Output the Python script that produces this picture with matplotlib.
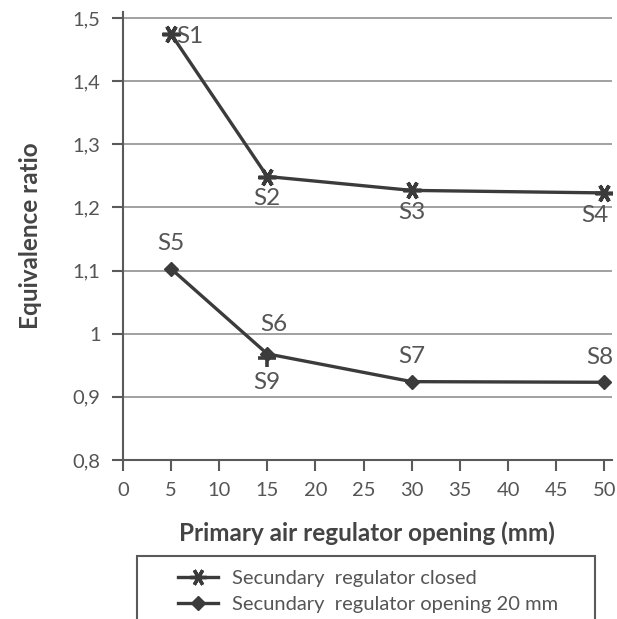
"""Equivalence ratio vs primary air regulator opening."""

import matplotlib.pyplot as plt
from matplotlib.lines import Line2D
from matplotlib.patches import Rectangle

plt.rcParams["font.family"] = ["Lato", "DejaVu Sans"]

# data
opening_mm = [5, 15, 30, 50]
closed_phi = [1.475, 1.249, 1.227, 1.223]
closed_tags = ["S1", "S2", "S3", "S4"]
open20_phi = [1.103, 0.968, 0.924, 0.923]
open20_tags = ["S5", "S6", "S7", "S8"]
s9_opening = [15]
s9_phi = [0.962]

x_ticks = list(range(0, 55, 5))
y_ticks = [0.8, 0.9, 1.0, 1.1, 1.2, 1.3, 1.4, 1.5]
y_tick_labels = ["0,8", "0,9", "1", "1,1", "1,2", "1,3", "1,4", "1,5"]

LINE = "#3b3b3b"
GRID = "#9a9a9a"
TEXT = "#555555"
STAR = (6, 2, 90)

fig = plt.figure(figsize=(6.17, 6.19), dpi=100)
ax = fig.add_axes([0.199, 0.257, 0.793, 0.724])

ax.plot(opening_mm, closed_phi, color=LINE, lw=2.4, marker=STAR, ms=13, mew=2.6)
ax.plot(opening_mm, open20_phi, color=LINE, lw=2.4, marker="D", ms=7.5)
ax.plot(s9_opening, s9_phi, color=LINE, ls="none", marker="+", ms=13, mew=2.6)

ax.set_xlim(0, 50.8)
ax.set_ylim(0.8, 1.51)
ax.set_xticks(x_ticks)
ax.set_yticks(y_ticks)
ax.set_yticklabels(y_tick_labels)
ax.grid(True, axis="y", color=GRID, lw=1.3)
ax.set_axisbelow(True)
for side in ["top", "right"]:
    ax.spines[side].set_visible(False)
for side in ["left", "bottom"]:
    ax.spines[side].set_color("#5a5a5a")
    ax.spines[side].set_linewidth(1.5)
ax.tick_params(colors="#5a5a5a", width=1.5, length=8, labelsize=14.5,
               labelcolor=TEXT, pad=8)

ax.set_xlabel("Primary air regulator opening (mm)", fontsize=17.5,
              color="#444444", fontweight="bold", labelpad=16)
ax.set_ylabel("Equivalence ratio", fontsize=17.5, color="#444444",
              fontweight="bold", labelpad=22)

# point tags
tag_kw = dict(textcoords="offset points", fontsize=17.5, color=TEXT)
closed_offsets = [(4, -2), (0, -16), (0, -16), (-7, -16)]
closed_align = [("left", "center"), ("center", "center"),
                ("center", "center"), ("center", "center")]
for x, y, tag, off, (ha, va) in zip(opening_mm, closed_phi, closed_tags,
                                    closed_offsets, closed_align):
    ax.annotate(tag, (x, y), xytext=off, ha=ha, va=va, **tag_kw)
open_offsets = [(0, 18), (5, 21), (0, 18), (-3, 18)]
for x, y, tag, off in zip(opening_mm, open20_phi, open20_tags, open_offsets):
    ax.annotate(tag, (x, y), xytext=off, ha="center", va="center", **tag_kw)
ax.annotate("S9", (s9_opening[0], s9_phi[0]), xytext=(0, -18),
            ha="center", va="center", **tag_kw)

# legend box, cut off by the bottom edge as in the source
fig.patches.append(Rectangle((137 / 617, -0.05), 458 / 617, 0.05 + 1 - 556 / 619,
                             transform=fig.transFigure, fill=False,
                             ec="#5a5a5a", lw=1.5))
handles = [
    Line2D([], [], color=LINE, lw=2.4, marker=STAR, ms=12, mew=2.4),
    Line2D([], [], color=LINE, lw=2.4, marker="D", ms=7),
]
labels = ["Secundary  regulator closed", "Secundary  regulator opening 20 mm"]
leg = fig.legend(handles, labels, loc="upper left",
                 bbox_to_anchor=(170 / 617, 1 - 562 / 619), frameon=False,
                 fontsize=14.5, handlelength=2.0, handletextpad=0.7,
                 labelspacing=0.45, borderaxespad=0)
for t in leg.get_texts():
    t.set_color(TEXT)

fig.savefig("out.png", dpi=100)
